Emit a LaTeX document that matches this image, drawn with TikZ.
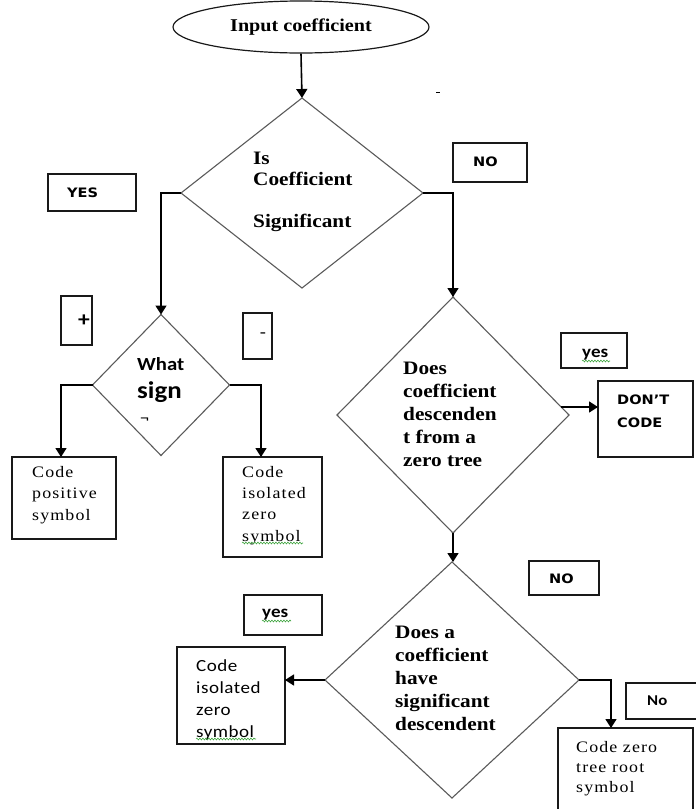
\documentclass[tikz,border=0pt]{standalone}
\usepackage{fontspec}
\usetikzlibrary{shapes.geometric,arrows.meta,calc,decorations.pathmorphing}

% Type faces used in the chart
\newfontfamily\flowserif[FakeStretch=1.12]{Liberation Serif}
\newfontfamily\boxserif[FakeStretch=1.12,LetterSpace=7]{Liberation Serif}
\newfontfamily\labelsans[FakeStretch=1.12]{DejaVu Sans}
\newfontfamily\calib[FakeStretch=1.12]{Carlito}
\newfontfamily\calibsp[FakeStretch=1.12,LetterSpace=3]{Carlito}

\definecolor{diagray}{HTML}{5A5A5A}
\definecolor{squiggreen}{HTML}{3FA53F}

% multi-line texts are placed by the baseline of their last line
\tikzset{
  decision/.style={diamond, draw=diagray, line width=1.1pt, inner sep=0pt, outer sep=0pt},
  frame/.style={rectangle, draw=black!90, line width=1.3pt, inner sep=0pt, outer sep=0pt},
  conn/.style={draw=black, line width=1.6pt, -{Triangle[width=11pt,length=9pt]}},
  txt/.style={inner sep=0pt, anchor=base west, align=left},
  boldtext/.style={font={\flowserif\bfseries\fontsize{19}{23}\selectfont}},
  tag/.style={font={\labelsans\bfseries\fontsize{13}{15}\selectfont}},
  spell/.style={draw=squiggreen, line width=0.6pt, decorate,
    decoration={snake, amplitude=0.9pt, segment length=3pt}}
}

\begin{document}
\begin{tikzpicture}[x=1pt, y=-1pt]
\useasboundingbox (0,0) rectangle (696,809);
\clip (0,0) rectangle (696,809);

% start
\node[ellipse, draw=black!90, line width=1.2pt, minimum width=256pt, minimum height=52pt,
      inner sep=0pt, font={\flowserif\bfseries\fontsize{18}{20}\selectfont}]
      (inp) at (301,27) {Input coefficient};

% decisions
\node[decision, minimum width=242pt, minimum height=190pt] (d1) at (302,193) {};
\node[decision, minimum width=137pt, minimum height=141pt] (d2) at (161,385) {};
\node[decision, minimum width=232pt, minimum height=236pt] (d3) at (453,415) {};
\node[decision, minimum width=254pt, minimum height=236pt] (d4) at (452,680) {};

% decision texts
\node[txt, font={\flowserif\bfseries\fontsize{19}{21}\selectfont}] (d1t) at (253,227)
  {Is\\Coefficient\\[21pt]Significant};
\node[txt, font={\calib\bfseries\fontsize{18.5}{28}\selectfont}] (d2t) at (137,398)
  {What\\{\fontsize{24}{28}\selectfont sign}};
\node[txt, font={\calib\fontsize{16}{16}\selectfont}] (d2q) at (140,423) {¬};
\node[txt, boldtext] (d3t) at (403,466)
  {Does\\coefficient\\descenden\\t from a\\zero tree};
\node[txt, boldtext] (d4t) at (395,730)
  {Does a\\coefficient\\have\\significant\\descendent};

% branch labels
\node[frame, minimum width=88pt, minimum height=37pt] (yesA) at (92,192.5) {};
\node[txt, tag] (yesAt) at (67,197) {YES};
\node[frame, minimum width=74pt, minimum height=39pt] (noA) at (490,162.5) {};
\node[txt, tag] (noAt) at (473,166) {NO};
\node[frame, minimum width=31pt, minimum height=49pt] (plus) at (76.5,320.5) {};
\node[inner sep=0pt, font={\calib\bfseries\fontsize{21}{21}\selectfont}] (plust) at (84,321) {+};
\node[frame, minimum width=29pt, minimum height=46pt] (minus) at (257.5,336) {};
\node[inner sep=0pt, font={\calib\fontsize{18}{18}\selectfont}] (minust) at (263,336) {-};
\node[frame, minimum width=66pt, minimum height=35pt] (yesB) at (594,350.5) {};
\node[txt, font={\calib\bfseries\fontsize{17}{17}\selectfont}] (yesBt) at (582,357) {yes};
\node[frame, minimum width=70pt, minimum height=34pt] (noB) at (564,578) {};
\node[txt, tag] (noBt) at (549,583) {NO};
\node[frame, minimum width=78pt, minimum height=40pt] (yesC) at (283,615) {};
\node[txt, font={\calib\bfseries\fontsize{17}{17}\selectfont}] (yesCt) at (262,617) {yes};
\node[frame, minimum width=94pt, minimum height=36pt] (noC) at (673,701) {};
\node[txt, font={\calib\bfseries\fontsize{15}{15}\selectfont}] (noCt) at (647,705) {No};

% outcomes
\node[frame, minimum width=104pt, minimum height=82pt] (pos) at (64,498) {};
\node[txt, font={\boxserif\fontsize{16}{21.5}\selectfont}] (post) at (32,520)
  {Code\\positive\\symbol};
\node[frame, minimum width=99pt, minimum height=100pt] (iso1) at (272.5,507) {};
\node[txt, font={\boxserif\fontsize{16}{21.3}\selectfont}] (iso1t) at (242,541)
  {Code\\isolated\\zero\\symbol};
\node[frame, minimum width=95pt, minimum height=76pt] (dont) at (645.5,419) {};
\node[txt, font={\labelsans\bfseries\fontsize{13}{23}\selectfont}] (dontt) at (617,427)
  {DON’T\\CODE};
\node[frame, minimum width=108pt, minimum height=97pt] (iso2) at (231,695.5) {};
\node[txt, font={\calibsp\fontsize{17}{22}\selectfont}] (iso2t) at (196,737)
  {Code\\isolated\\zero\\symbol};
\node[frame, minimum width=135pt, minimum height=112pt] (root) at (625.5,784) {};
\node[txt, font={\boxserif\fontsize{16}{20}\selectfont}] (roott) at (576,792)
  {Code zero\\tree root\\symbol};

% connectors
\draw[conn] (inp.south) -- (d1.north);
\draw[conn] (d1.west) -| (d2.north);
\draw[conn] (d1.east) -| (d3.north);
\draw[conn] (d2.west) -| ([xshift=-3pt]pos.north);
\draw[conn] (d2.east) -| ([xshift=-11.5pt]iso1.north);
\coordinate (d3out) at ([xshift=-8pt,yshift=8pt]d3.east);
\draw[conn] (d3out) -- (d3out -| dont.west);
\draw[conn] (d3.south) -- (d3.south |- d4.north);
\draw[conn] (d4.west) -- (d4.west -| iso2.east);
\draw[conn] (d4.east) -| ([xshift=-14.5pt]root.north);

% spelling underlines
\draw[spell] (242,543) -- (303,543);
\draw[spell] (196,739) -- (256,739);
\draw[spell] (582,361) -- (610,361);
\draw[spell] (262,621) -- (291,621);

% small stray mark
\draw[line width=1pt] (436,92) -- (440,92);
\end{tikzpicture}
\end{document}
